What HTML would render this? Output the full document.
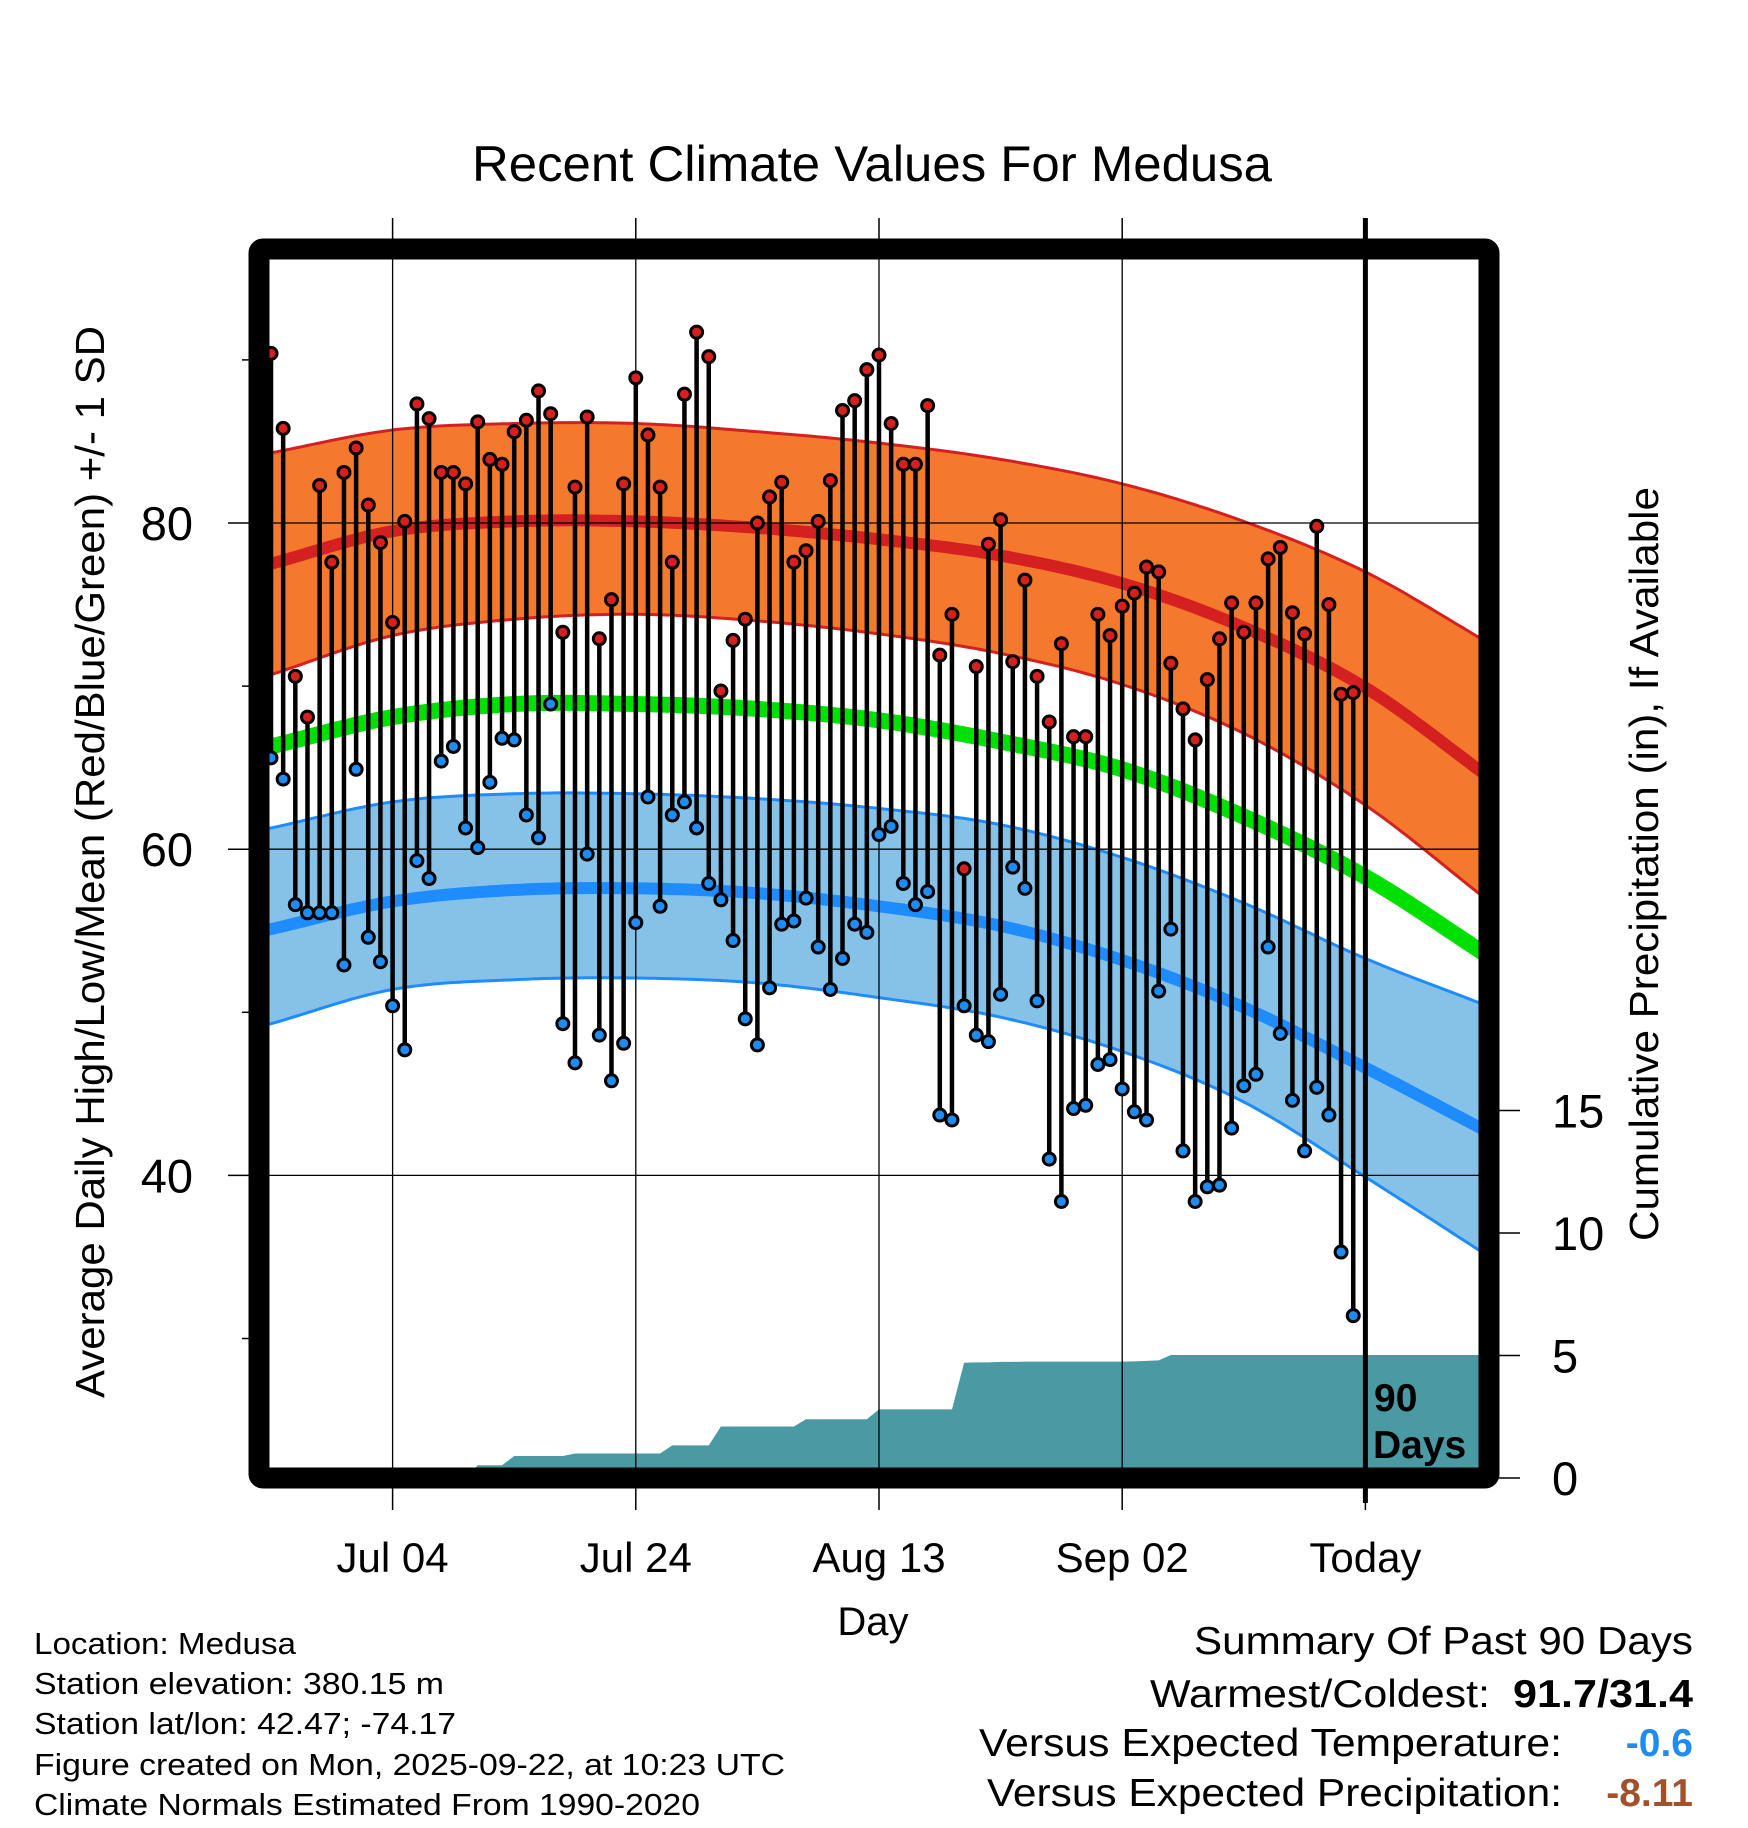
<!DOCTYPE html>
<html><head><meta charset="utf-8"><style>
html,body{margin:0;padding:0;background:#fff;}
svg{display:block;font-family:"Liberation Sans",Arial,sans-serif;}
</style></head><body>
<svg id="chart" width="1748" height="1828" viewBox="0 0 1748 1828" xmlns="http://www.w3.org/2000/svg">
<rect x="0" y="0" width="1748" height="1828" fill="#fff"/>
<defs><clipPath id="plotclip"><rect x="268" y="258" width="1211" height="1210"/></clipPath></defs>
<text x="872" y="181" font-size="50" text-anchor="middle" textLength="800" lengthAdjust="spacingAndGlyphs">Recent Climate Values For Medusa</text>
<g id="plot" clip-path="url(#plotclip)"></g>
<g id="axes"></g>
<text transform="translate(104,862) rotate(-90)" font-size="41" text-anchor="middle" textLength="1072" lengthAdjust="spacingAndGlyphs">Average Daily High/Low/Mean (Red/Blue/Green) +/- 1 SD</text>
<text transform="translate(1658,864) rotate(-90)" font-size="41" text-anchor="middle" textLength="754" lengthAdjust="spacingAndGlyphs">Cumulative Precipitation (in), If Available</text>
<text x="873" y="1635" font-size="40" text-anchor="middle">Day</text>
<g font-size="31">
<text x="34" y="1654" textLength="262" lengthAdjust="spacingAndGlyphs">Location: Medusa</text>
<text x="34" y="1694" textLength="410" lengthAdjust="spacingAndGlyphs">Station elevation: 380.15 m</text>
<text x="34" y="1734" textLength="422" lengthAdjust="spacingAndGlyphs">Station lat/lon: 42.47; -74.17</text>
<text x="34" y="1775" textLength="751" lengthAdjust="spacingAndGlyphs">Figure created on Mon, 2025-09-22, at 10:23 UTC</text>
<text x="34" y="1815" textLength="666" lengthAdjust="spacingAndGlyphs">Climate Normals Estimated From 1990-2020</text>
</g>
<g font-size="39">
<text x="1693" y="1654" text-anchor="end" textLength="499" lengthAdjust="spacingAndGlyphs">Summary Of Past 90 Days</text>
<text x="1490" y="1707" text-anchor="end" textLength="340" lengthAdjust="spacingAndGlyphs">Warmest/Coldest:</text>
<text x="1693" y="1707" text-anchor="end" font-weight="bold" textLength="180" lengthAdjust="spacingAndGlyphs">91.7/31.4</text>
<text x="1562" y="1756" text-anchor="end" textLength="583" lengthAdjust="spacingAndGlyphs">Versus Expected Temperature:</text>
<text x="1693" y="1756" text-anchor="end" font-weight="bold" fill="#1e8cf0">-0.6</text>
<text x="1562" y="1806" text-anchor="end" textLength="575" lengthAdjust="spacingAndGlyphs">Versus Expected Precipitation:</text>
<text x="1693" y="1806" text-anchor="end" font-weight="bold" fill="#a0522d">-8.11</text>
</g>
</svg>
<script>
// normals sampled every 10 days from Jun 24 (day 0) to day 100
const normDays = [0,10,20,30,40,50,60,70,80,90,100];
const highMean = [77.5,79.5,80.1,80.1,79.7,79.0,78.0,76.3,73.6,69.9,64.5];
const highUpper = [84.3,85.7,86.1,86.1,85.6,84.9,83.9,82.4,80.1,77.0,72.7];
const highLower = [70.7,73.1,74.1,74.4,74.0,73.2,72.0,70.1,67.1,62.7,56.9];
const meanTemp = [66.3,68.1,68.9,68.9,68.6,67.9,66.6,64.9,62.0,58.3,53.5];
const lowMean = [55.1,56.8,57.5,57.6,57.3,56.5,55.3,53.2,50.3,46.6,42.7];
const lowUpper = [61.3,62.9,63.4,63.4,63.1,62.5,61.5,59.5,56.7,53.3,50.4];
const lowLower = [49.3,51.4,52.0,52.1,51.8,50.9,49.7,47.6,44.5,39.9,35.1];
// daily observations, Jun 24 .. Sep 21
const dailyHigh = [90.4,85.8,70.6,68.1,82.3,77.6,83.1,84.6,81.1,78.8,73.9,80.1,87.3,86.4,83.1,83.1,82.4,86.2,83.9,83.6,85.6,86.3,88.1,86.7,73.3,82.2,86.5,72.9,75.3,82.4,88.9,85.4,82.2,77.6,87.9,91.7,90.2,69.7,72.8,74.1,80.0,81.6,82.5,77.6,78.3,80.1,82.6,86.9,87.5,89.4,90.3,86.1,83.6,83.6,87.2,71.9,74.4,58.8,71.2,78.7,80.2,71.5,76.5,70.6,67.8,72.6,66.9,66.9,74.4,73.1,74.9,75.7,77.3,77.0,71.4,68.6,66.7,70.4,72.9,75.1,73.3,75.1,77.8,78.5,74.5,73.2,79.8,75.0,69.5,69.6];
const dailyLow = [65.6,64.3,56.6,56.1,56.1,56.1,52.9,64.9,54.6,53.1,50.4,47.7,59.3,58.2,65.4,66.3,61.3,60.1,64.1,66.8,66.7,62.1,60.7,68.9,49.3,46.9,59.7,48.6,45.8,48.1,55.5,63.2,56.5,62.1,62.9,61.3,57.9,56.9,54.4,49.6,48.0,51.5,55.4,55.6,57.0,54.0,51.4,53.3,55.4,54.9,60.9,61.4,57.9,56.6,57.4,43.7,43.4,50.4,48.6,48.2,51.1,58.9,57.6,50.7,41.0,38.4,44.1,44.3,46.8,47.1,45.3,43.9,43.4,51.3,55.1,41.5,38.4,39.3,39.4,42.9,45.5,46.2,54.0,48.7,44.6,41.5,45.4,43.7,35.3,31.4];
const cumPrecip = [0,0,0,0,0,0,0,0,0,0,0,0,0,0,0,0,0,0.52,0.52,0.52,0.9,0.9,0.9,0.9,0.9,1.0,1.0,1.0,1.0,1.0,1.0,1.0,1.0,1.33,1.33,1.33,1.33,2.1,2.1,2.1,2.1,2.1,2.1,2.1,2.4,2.4,2.4,2.4,2.4,2.4,2.8,2.8,2.8,2.8,2.8,2.8,2.8,4.7,4.72,4.72,4.74,4.74,4.75,4.75,4.75,4.75,4.75,4.75,4.75,4.75,4.75,4.76,4.78,4.8,5.02,5.02,5.02,5.02,5.02,5.02,5.02,5.02,5.02,5.02,5.02,5.02,5.02,5.02,5.02,5.02];
const xTickDays = [10,30,50,70,90];
const xTickLabels = ["Jul 04","Jul 24","Aug 13","Sep 02","Today"];
const yTicks = [30,40,50,60,70,80,90];
const yLabels = [40,60,80];
const pTicks = [0,5,10,15];

const NS="http://www.w3.org/2000/svg";
const X = d => 271 + d*12.16;
const Y = t => 523 + (80-t)*16.31;
const P = p => 1478 - p*24.5;
const PL=268, PR=1479, PT=258, PB=1468;
const plot=document.getElementById('plot'), axes=document.getElementById('axes');
function mk(tag, attrs, parent){const e=document.createElementNS(NS,tag);for(const k in attrs)e.setAttribute(k,attrs[k]);(parent||plot).appendChild(e);return e;}
function curvePts(vals){const pts=[];for(let d=-1;d<=100;d+=0.5){let i=0;while(i<normDays.length-2&&d>normDays[i+1])i++;
 const d0=normDays[i],d1=normDays[i+1];const t=(d-d0)/(d1-d0);
 const v1=vals[i],v2=vals[i+1];
 const v0=i>0?vals[i-1]:2*v1-v2, v3=i+2<vals.length?vals[i+2]:2*v2-v1;
 const v=0.5*((2*v1)+(-v0+v2)*t+(2*v0-5*v1+4*v2-v3)*t*t+(-v0+3*v1-3*v2+v3)*t*t*t);
 pts.push([X(d),Y(v)]);}return pts;}
const ps=p=>p.map(q=>q[0].toFixed(1)+','+q[1].toFixed(1)).join(' ');
function band(up,lo,fill,edge,name){const u=curvePts(up),l=curvePts(lo);
 let e=mk('polygon',{points:ps(u.concat(l.slice().reverse())),fill:fill});
 
 
 e=mk('polyline',{points:ps(u),fill:'none',stroke:edge,'stroke-width':3});
 
 
 e=mk('polyline',{points:ps(l),fill:'none',stroke:edge,'stroke-width':3});
 
 }
function line(vals,col,w,name){const e=mk('polyline',{points:ps(curvePts(vals)),fill:'none',stroke:col,'stroke-width':w});
 
 }
band(highUpper,highLower,'#f5792d','#d42020','high-normal');
line(highMean,'#d42020',12,'high-normal-mean');
band(lowUpper,lowLower,'#86c2e8','#1e8cff','low-normal');
line(lowMean,'#1e8cff',12,'low-normal-mean');
line(meanTemp,'#00e000',16,'mean-normal');
let pp=[[X(0),P(0)]];cumPrecip.forEach((v,i)=>pp.push([X(i),P(v)]));
pp.push([PR+5,P(cumPrecip[cumPrecip.length-1])]);pp.push([PR+5,P(0)]);
let pe=mk('polygon',{points:ps(pp),fill:'#4a9aa3'});


yLabels.forEach(t=>{const g=mk('line',{x1:PL,x2:PR,y1:Y(t),y2:Y(t),stroke:'#000','stroke-width':1.3});
 
 });
xTickDays.forEach(d=>{if(d===90)return;const g=mk('line',{x1:X(d),x2:X(d),y1:PT,y2:PB,stroke:'#000','stroke-width':1.3});
 
 });
dailyHigh.forEach((h,i)=>{const l=dailyLow[i];
 const s=mk('line',{x1:X(i),x2:X(i),y1:Y(h),y2:Y(l),stroke:'#000','stroke-width':4.5});
 
 });
dailyHigh.forEach((h,i)=>{
 const a=mk('circle',{cx:X(i),cy:Y(h),r:6,fill:'#d62020',stroke:'#000','stroke-width':3});
 
 
 const b=mk('circle',{cx:X(i),cy:Y(dailyLow[i]),r:6,fill:'#1e8cf0',stroke:'#000','stroke-width':3});
 
 });
let t1=mk('text',{x:1374,y:1411,'font-size':39,'font-weight':'bold'});t1.textContent='90';


let t2=mk('text',{x:1373,y:1458,'font-size':39,'font-weight':'bold'});t2.textContent='Days';


let fr=mk('rect',{x:259,y:249,width:1230,height:1229,fill:'none',stroke:'#000','stroke-width':21,rx:4},axes);


let tl=mk('line',{x1:X(90),x2:X(90),y1:218,y2:1503,stroke:'#000','stroke-width':5},axes);


xTickDays.forEach((d,i)=>{
 const a=mk('line',{x1:X(d),x2:X(d),y1:218,y2:240,stroke:'#000','stroke-width':1.5},axes);
 
 
 const b=mk('line',{x1:X(d),x2:X(d),y1:1488,y2:1510,stroke:'#000','stroke-width':1.5},axes);
 
 
 const t=mk('text',{x:X(d),y:1572,'font-size':42,'text-anchor':'middle'},axes);
 t.textContent=xTickLabels[i];
 
 });
yTicks.forEach(v=>{const lab=yLabels.includes(v);
 const a=mk('line',{x1:lab?228:242,x2:250,y1:Y(v),y2:Y(v),stroke:'#000','stroke-width':1.5},axes);
 
 
 if(lab){const t=mk('text',{x:193,y:Y(v)+17,'font-size':47,'text-anchor':'end'},axes);t.textContent=v;
 
 }});
pTicks.forEach(v=>{
 const a=mk('line',{x1:1499,x2:1520,y1:P(v),y2:P(v),stroke:'#000','stroke-width':1.5},axes);
 
 
 const t=mk('text',{x:1552,y:P(v)+17,'font-size':47},axes);t.textContent=v;
 
 });
</script>
</body></html>
